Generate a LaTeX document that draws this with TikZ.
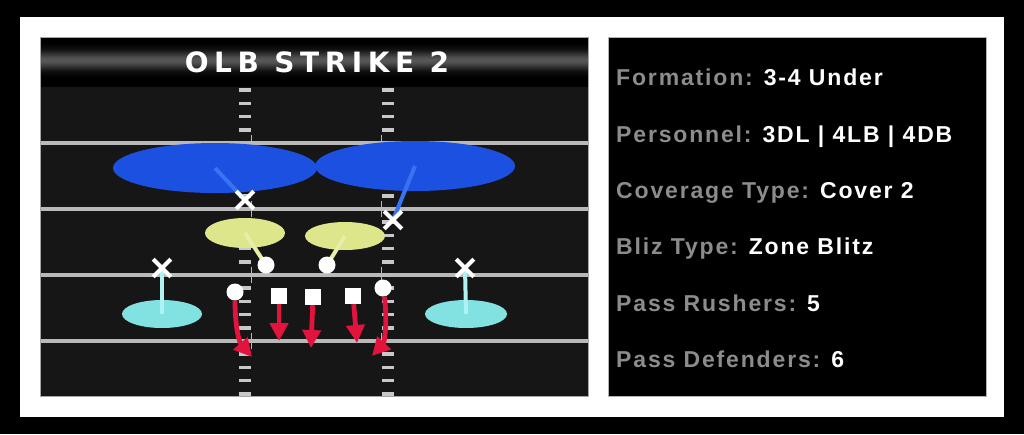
\documentclass[tikz,border=0pt]{standalone}
\usepackage{fontspec}
\usetikzlibrary{shapes.geometric, shapes.misc, arrows.meta}

\newfontfamily\titlefont{DejaVu Sans}[LetterSpace=20]
\newfontfamily\infofont{Liberation Sans}[LetterSpace=8]

\definecolor{fieldgray}{RGB}{22,22,22}
\definecolor{linegray}{RGB}{185,185,185}
\definecolor{hashgray}{RGB}{200,200,200}
\definecolor{labelgray}{RGB}{140,140,140}
\definecolor{deepblue}{RGB}{28,80,225}
\definecolor{deepline}{RGB}{55,115,242}
\definecolor{hookyellow}{RGB}{222,230,140}
\definecolor{hookline}{RGB}{232,238,165}
\definecolor{flatcyan}{RGB}{130,225,225}
\definecolor{flatline}{RGB}{175,242,242}
\definecolor{rushred}{RGB}{226,20,62}

\pgfdeclarelayer{background}
\pgfdeclarelayer{routes}
\pgfsetlayers{background,routes,main}

\begin{document}
\begin{tikzpicture}[x=1pt, y=-1pt,
    zone/.style={ellipse, inner sep=0pt},
    defx/.style={cross out, draw=white, line width=4.2pt, minimum size=13.5pt, inner sep=0pt},
    defdot/.style={circle, fill=white, minimum size=17pt, inner sep=0pt},
    defsq/.style={rectangle, fill=white, minimum size=16pt, inner sep=0pt},
    rush/.style={rushred, line width=4.8pt, -{Triangle[width=18pt,length=18pt]}},
    infoline/.style={anchor=base west, inner sep=0pt, font=\infofont\bfseries\fontsize{23}{27}\selectfont}]

    \useasboundingbox (0,0) rectangle (1024,434);

    \begin{pgfonlayer}{background}
    \fill[black] (0,0) rectangle (1024,434);
    \fill[white] (20,17) rectangle (1004,417);
    % header band
    \fill[black] (40,37) rectangle (588,87);
    \foreach \i in {40,...,80} {
        \pgfmathsetmacro\glow{int(34*exp(-((\i-60)/9)^2))}
        \fill[white!\glow!black] (40,\i) rectangle (588,\i+1.05);
    }
    \node (title) at (317,62) {\titlefont\bfseries\fontsize{28}{30}\selectfont\textcolor{white}{OLB STRIKE 2}};
    % field
    \fill[fieldgray] (40,87) rectangle (588,396);
    \foreach \y in {143,209,275,341}
        \draw[linegray, line width=4.5pt] (40,\y) -- (588,\y);
    \foreach \y in {77,143,209,275,341} {
        \foreach \k in {1,...,4} {
            \fill[hashgray] (239,\y+13.2*\k-1.8) rectangle (251,\y+13.2*\k+1.8);
            \fill[hashgray] (382,\y+13.2*\k-1.8) rectangle (394,\y+13.2*\k+1.8);
        }
    }
    \foreach \y in {143,209,275,341} {
        \draw[linegray, line width=1pt] (251,\y-8) -- (251,\y+8);
        \draw[linegray, line width=1pt] (381,\y-8) -- (381,\y+8);
    }
    \draw[gray!70, line width=1pt] (40,37) rectangle (588,396);

    % zones
    \node[zone, fill=deepblue, minimum width=204pt, minimum height=50pt] (ldeep) at (215,168) {};
    \node[zone, fill=deepblue, minimum width=200pt, minimum height=50pt] (rdeep) at (415,166) {};
    \node[zone, fill=hookyellow, minimum width=80pt, minimum height=30pt] (lhook) at (245,233) {};
    \node[zone, fill=hookyellow, minimum width=80pt, minimum height=28pt] (rhook) at (345,236) {};
    \node[zone, fill=flatcyan, minimum width=80pt, minimum height=28pt] (lflat) at (162,314) {};
    \node[zone, fill=flatcyan, minimum width=82pt, minimum height=28pt] (rflat) at (466,314) {};
    \end{pgfonlayer}

    % defenders
    \node[defx] (fs) at (245,200) {};
    \node[defx] (ss) at (393,220) {};
    \node[defx] (lcb) at (162,268) {};
    \node[defx] (rcb) at (465,268) {};
    \node[defdot] (lilb) at (266,265) {};
    \node[defdot] (rilb) at (327,265) {};
    \node[defdot] (lolb) at (235,292) {};
    \node[defdot] (rolb) at (383,288) {};
    \node[defsq] (lde) at (279,296) {};
    \node[defsq] (nt) at (313,297) {};
    \node[defsq] (rde) at (353,296) {};

    % drops into zones
    \begin{pgfonlayer}{routes}
    \draw[deepline, line width=4pt] (ldeep.center) -- (fs.center);
    \draw[deepline, line width=4pt] (rdeep.center) -- (ss.center);
    \draw[hookline, line width=4pt] (lhook.center) -- (lilb.center);
    \draw[hookline, line width=4pt] (rhook.center) -- (rilb.center);
    \draw[flatline, line width=4pt] (lcb.center) -- (lflat.center);
    \draw[flatline, line width=4pt] (rcb.center) -- (rflat.center);
    \end{pgfonlayer}

    % rushes
    \coordinate (lolb-end) at (252,357);
    \coordinate (lde-end) at (279,341);
    \coordinate (nt-end) at (311,348);
    \coordinate (rde-end) at (357,343);
    \coordinate (rolb-end) at (372,356);
    \draw[rush] (lolb) .. controls (235,330) and (240,343) .. (lolb-end);
    \draw[rush] (lde) -- (lde-end);
    \draw[rush] (nt) -- (nt-end);
    \draw[rush] (rde) -- (rde-end);
    \draw[rush] (rolb) .. controls (388,322) and (384,343) .. (rolb-end);

    % info panel
    \draw[fill=black, draw=gray!60, line width=1pt] (608,37) rectangle (986,396);
    \foreach \n/\lab/\val/\y in {1/Formation/3-4 Under/85,
                                 2/Personnel/3DL | 4LB | 4DB/142,
                                 3/Coverage Type/Cover 2/198,
                                 4/Bliz Type/Zone Blitz/254,
                                 5/Pass Rushers/5/311,
                                 6/Pass Defenders/6/367}
        \node[infoline] (info\n) at (616,\y) {\textcolor{labelgray}{\lab:} \textcolor{white}{\val}};
\end{tikzpicture}
\end{document}
